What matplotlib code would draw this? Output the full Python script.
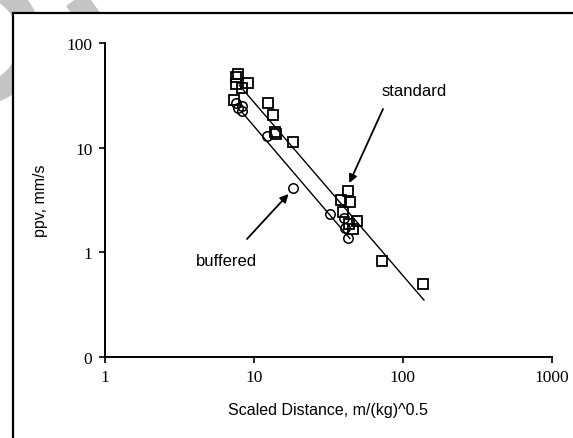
import matplotlib
matplotlib.use("Agg")
import matplotlib.pyplot as plt
from matplotlib.patches import Arc, Rectangle
from matplotlib.lines import Line2D

# ---- data ----
std_x = [7.78, 7.58, 7.55, 9.17, 8.36, 7.39, 12.5, 13.4, 14.1, 13.9, 18.3,
         43.1, 38.6, 44.2, 39.8, 49.5, 43.7, 46.3, 72.7, 137.3]
std_y = [50.4, 46.9, 40.2, 41.4, 36.8, 28.6, 26.8, 20.5, 13.5, 14.0, 11.2,
         3.81, 3.13, 3.03, 2.43, 1.97, 1.86, 1.65, 0.82, 0.495]

buf_x = [7.58, 7.78, 8.36, 8.36, 12.2, 18.4, 32.3, 40.1, 40.7, 43.1]
buf_y = [26.8, 24.0, 25.1, 22.3, 12.8, 4.10, 2.31, 2.10, 1.71, 1.36]

# trend lines (end points)
std_fit_x = [7.98, 139.0]
std_fit_y = [39.5, 0.348]
buf_fit_x = [8.28, 44.2]
buf_fit_y = [22.0, 1.35]

x_ticks = [1, 10, 100, 1000]
x_tick_labels = ["1", "10", "100", "1000"]
y_ticks = [0.1, 1, 10, 100]
y_tick_labels = ["0", "1", "10", "100"]

W, H = 573, 439
fig = plt.figure(figsize=(W / 100, H / 100), dpi=100)
fig.patch.set_facecolor("white")

# background grey streaks (outside the frame)
arc = Arc((-25.3, H - 40.8), 110.6, 110.6, angle=0, theta1=-120, theta2=100,
          transform=None, color="#c4c4c4", lw=16, zorder=-3)
fig.add_artist(arc)
streak = Line2D([72, 96], [H + 5, H - 28], transform=None, color="#c4c4c4",
                lw=17, solid_capstyle="butt", zorder=-3)
fig.add_artist(streak)

# outer frame (white box)
frame = Rectangle((13, -20), 700, H - 14 + 20, transform=None,
                  facecolor="white", edgecolor="black", lw=1.6, zorder=-2)
fig.add_artist(frame)

ax = fig.add_axes([105 / W, 1 - 357.7 / H, (551.5 - 105) / W, (357.7 - 44) / H])
ax.set_facecolor("none")
ax.set_zorder(1)

ax.plot(std_fit_x, std_fit_y, color="black", lw=1.0)
ax.plot(buf_fit_x, buf_fit_y, color="black", lw=1.0)
ax.plot(std_x, std_y, ls="none", marker="s", ms=7.2, mfc="none", mec="black", mew=1.3)
ax.plot(buf_x, buf_y, ls="none", marker="o", ms=6.8, mfc="none", mec="black", mew=1.1)

ax.set_xscale("log")
ax.set_yscale("log")
ax.set_xlim(1, 1000)
ax.set_ylim(0.1, 100)
ax.set_xticks(x_ticks)
ax.set_xticklabels(x_tick_labels)
ax.set_yticks(y_ticks)
ax.set_yticklabels(y_tick_labels)
ax.minorticks_off()
for s in ["top", "right"]:
    ax.spines[s].set_visible(False)
for s in ["left", "bottom"]:
    ax.spines[s].set_linewidth(1.4)
ax.tick_params(direction="out", length=4, width=1.2, labelsize=12.5, pad=5)
for lab in ax.get_xticklabels() + ax.get_yticklabels():
    lab.set_family("Liberation Serif")

ax.set_xlabel("Scaled Distance, m/(kg)^0.5", family="Liberation Sans", fontsize=11.5, labelpad=12)
ax.set_ylabel("ppv, mm/s", family="Liberation Sans", fontsize=11.5, labelpad=13)

# annotations (positions in figure pixels)
fig.text(414 / W, 1 - 91 / H, "standard", family="Liberation Sans", fontsize=12,
         ha="center", va="center")
fig.text(226 / W, 1 - 262 / H, "buffered", family="Liberation Sans", fontsize=12,
         ha="center", va="center")
ax.annotate("", xy=(349.3, H - 184), xycoords="figure pixels",
            xytext=(383, H - 110), textcoords="figure pixels",
            arrowprops=dict(arrowstyle="-|>", color="black", lw=1.3, mutation_scale=12,
                            shrinkA=0, shrinkB=0))
ax.annotate("", xy=(288.5, H - 195), xycoords="figure pixels",
            xytext=(247, H - 240), textcoords="figure pixels",
            arrowprops=dict(arrowstyle="-|>", color="black", lw=1.3, mutation_scale=12,
                            shrinkA=0, shrinkB=0))

fig.savefig("out.png", dpi=100)
